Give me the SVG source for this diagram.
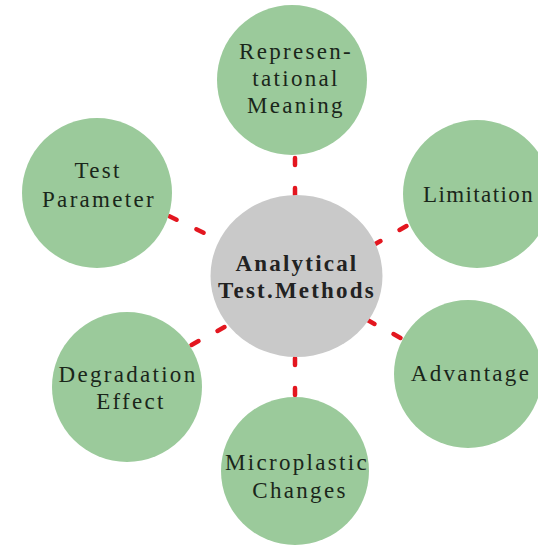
<svg xmlns="http://www.w3.org/2000/svg" width="538" height="546" viewBox="0 0 538 546">
<style>
.g{fill:#9bca9b}
.c{fill:#c9c9c9}
.t{font-family:"Liberation Serif","Times New Roman",serif;font-size:23px;letter-spacing:2.3px;fill:#1a261a;text-anchor:middle}
.b{font-family:"Liberation Serif","Times New Roman",serif;font-size:23px;letter-spacing:2.2px;font-weight:bold;fill:#222;text-anchor:middle}
.d{stroke:#e3161f;stroke-width:4.5;stroke-linecap:round;fill:none}
</style>
<rect width="538" height="546" fill="#fff"/>
<g id="connectors">
<line class="d" x1="295" y1="158" x2="295" y2="165"/>
<line class="d" x1="295" y1="188" x2="295" y2="195"/>
<line class="d" x1="295" y1="358" x2="295" y2="365"/>
<line class="d" x1="295" y1="388" x2="295" y2="395"/>
<line class="d" x1="169.4" y1="216.3" x2="176.6" y2="219.7"/>
<line class="d" x1="196.4" y1="229.3" x2="203.6" y2="232.7"/>
<line class="d" x1="373.5" y1="245" x2="380.5" y2="241"/>
<line class="d" x1="399.5" y1="230" x2="406.5" y2="226"/>
<line class="d" x1="191.5" y1="344.9" x2="198.5" y2="341.1"/>
<line class="d" x1="217.5" y1="330.9" x2="224.5" y2="327.1"/>
<line class="d" x1="367.5" y1="320.1" x2="374.5" y2="323.9"/>
<line class="d" x1="393.5" y1="334.1" x2="400.5" y2="337.9"/>
</g>
<g id="center">
<ellipse class="c" cx="296.5" cy="276" rx="86" ry="81"/>
<text class="b" x="297" y="271">Analytical</text>
<text class="b" x="297" y="298">Test.Methods</text>
</g>
<g id="representational">
<circle class="g" cx="292" cy="80" r="75"/>
<text class="t" x="296" y="59">Represen-</text>
<text class="t" x="296" y="86">tational</text>
<text class="t" x="296" y="113">Meaning</text>
</g>
<g id="test-parameter">
<circle class="g" cx="97" cy="193" r="75"/>
<text class="t" x="98" y="178">Test</text>
<text class="t" x="99" y="207">Parameter</text>
</g>
<g id="limitation">
<circle class="g" cx="477" cy="194" r="74"/>
<text class="t" x="423" y="202" style="text-anchor:start;letter-spacing:1.4px">Limitation</text>
</g>
<g id="degradation">
<circle class="g" cx="127" cy="387" r="75"/>
<text class="t" x="128" y="382">Degradation</text>
<text class="t" x="131" y="409">Effect</text>
</g>
<g id="advantage">
<circle class="g" cx="468" cy="374" r="74"/>
<text class="t" x="471" y="381">Advantage</text>
</g>
<g id="microplastic">
<circle class="g" cx="295" cy="471" r="74"/>
<text class="t" x="297" y="470">Microplastic</text>
<text class="t" x="300" y="498">Changes</text>
</g>
</svg>
